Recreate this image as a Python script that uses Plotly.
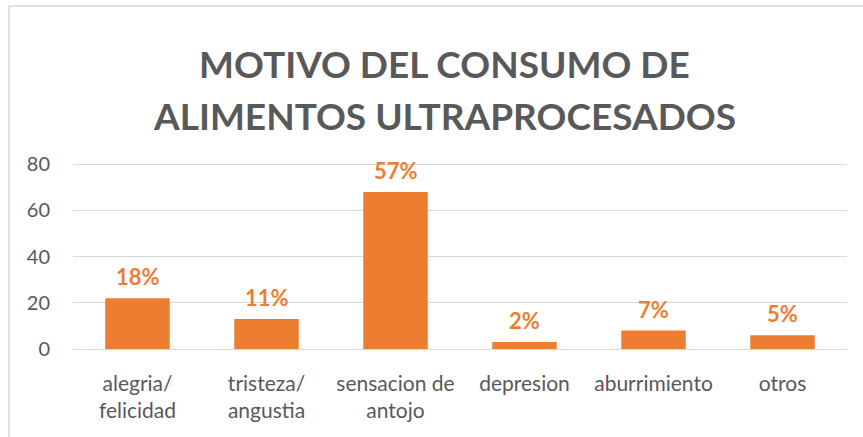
import plotly.graph_objects as go

categories = ["alegria/<br>felicidad", "tristeza/<br>angustia", "sensacion de<br>antojo",
              "depresion", "aburrimiento", "otros"]
values = [22, 13, 68, 3, 8, 6]
labels = ["18%", "11%", "57%", "2%", "7%", "5%"]
y_ticks = [0, 20, 40, 60, 80]
title_lines = ["MOTIVO DEL CONSUMO DE", "ALIMENTOS ULTRAPROCESADOS"]

ORANGE = "#ED7D31"
GRAY = "#595959"
FONT = "Lato"

fig = go.Figure()
fig.add_trace(go.Bar(
    x=categories, y=values, marker=dict(color=ORANGE, line=dict(width=0)),
    width=0.5, hoverinfo="skip",
))

for c, v, t in zip(categories, values, labels):
    fig.add_annotation(x=c, y=v, text="<b>%s</b>" % t, showarrow=False,
                       yanchor="bottom", yshift=6,
                       font=dict(family=FONT, size=22, color=ORANGE))

for line, yp in zip(title_lines, [1.537, 1.257]):
    fig.add_annotation(xref="paper", yref="paper", x=0.4806, y=yp, text="<b>%s</b>" % line,
                       showarrow=False, xanchor="center", yanchor="middle",
                       font=dict(family=FONT, size=37, color=GRAY))

fig.update_layout(
    width=863, height=437,
    margin=dict(l=73, r=16, t=163, b=88),
    paper_bgcolor="white", plot_bgcolor="white",
    showlegend=False,
    font=dict(family=FONT, color=GRAY),
    xaxis=dict(showgrid=False, showline=False, ticks="", ticklabelstandoff=20,
               tickfont=dict(family=FONT, size=21, color=GRAY)),
    yaxis=dict(range=[0, 80.5], tickvals=y_ticks, showgrid=True, gridcolor="#D9D9D9",
               gridwidth=1, zeroline=True, zerolinecolor="#D9D9D9", zerolinewidth=1,
               showline=False, ticks="", ticklabelstandoff=22,
               tickfont=dict(family=FONT, size=20, color=GRAY)),
    shapes=[dict(type="rect", xref="paper", yref="paper",
                 x0=(9 - 73) / 774, x1=(880 - 73) / 774,
                 y0=(349 - 460) / 186, y1=(349 - 6) / 186,
                 line=dict(color="#D9D9D9", width=1.5), layer="below")],
)

fig.write_html("out.html", config={"displayModeBar": False},
               post_script="document.body.style.margin='0';")
